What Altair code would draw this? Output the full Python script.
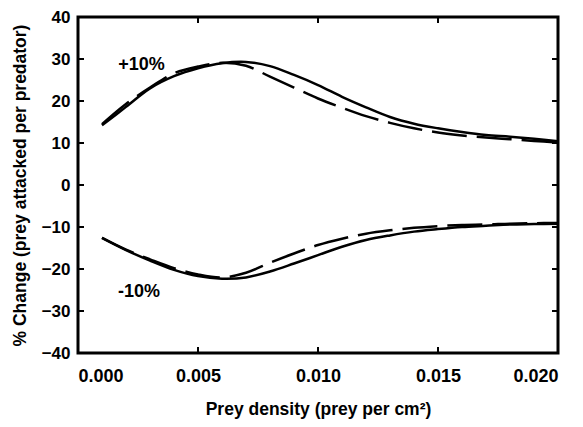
import altair as alt
import pandas as pd

# Prey density (prey per cm^2)
density = [0.001, 0.002, 0.003, 0.004, 0.005, 0.006, 0.007, 0.008, 0.009, 0.010,
           0.011, 0.012, 0.013, 0.014, 0.015, 0.016, 0.017, 0.018, 0.019, 0.020]

# +10% curves
plus_solid = [14.2, 18.6, 23.0, 25.9, 27.8, 29.0, 29.3, 28.3, 26.2, 23.8,
              21.0, 18.5, 16.2, 14.6, 13.5, 12.6, 11.9, 11.5, 11.0, 10.4]
plus_dashed = [14.5, 19.3, 23.2, 26.6, 28.2, 29.1, 28.4, 25.8, 23.2, 20.6,
               18.4, 16.4, 14.8, 13.5, 12.5, 11.8, 11.3, 10.9, 10.5, 10.1]

# -10% curves
minus_solid = [-12.6, -15.5, -18.0, -20.2, -21.7, -22.3, -22.0, -20.6, -18.7, -16.7,
               -14.7, -13.1, -12.0, -11.1, -10.5, -10.0, -9.7, -9.4, -9.3, -9.2]
minus_dashed = [-12.6, -15.4, -17.7, -19.8, -21.3, -22.0, -20.9, -18.5, -16.3, -14.3,
                -12.8, -11.6, -10.8, -10.2, -9.8, -9.5, -9.4, -9.2, -9.1, -9.05]

x_ticks = [0.0, 0.005, 0.010, 0.015, 0.020]
y_ticks = [-40, -30, -20, -10, 0, 10, 20, 30, 40]

label_text = ["+10%", "-10%"]
label_x = [0.00265, 0.00254]
label_y = [28.5, -25.4]

FONT = "Liberation Sans"

solid_df = pd.DataFrame(
    [{"x": d, "y": v, "g": "plus"} for d, v in zip(density, plus_solid)]
    + [{"x": d, "y": v, "g": "minus"} for d, v in zip(density, minus_solid)]
)
dashed_df = pd.DataFrame(
    [{"x": d, "y": v, "g": "plus"} for d, v in zip(density, plus_dashed)]
    + [{"x": d, "y": v, "g": "minus"} for d, v in zip(density, minus_dashed)]
)
xt_df = pd.DataFrame({"x": x_ticks})
yt_df = pd.DataFrame({"y": y_ticks})
lab_df = pd.DataFrame({"x": label_x, "y": label_y, "t": label_text})

X = alt.X(
    "x:Q",
    scale=alt.Scale(domain=[0, 0.02], nice=False, zero=False),
    axis=alt.Axis(
        values=x_ticks, format=".3f", ticks=False, tickSize=0, domain=False, grid=False,
        labelPadding=14, labelFontSize=18, labelFont=FONT, labelFontWeight="bold",
        labelColor="black",
        title="Prey density (prey per cm²)", titleFont=FONT, titleFontSize=17.5,
        titleFontWeight="bold", titleColor="black", titleY=61,
        titleBaseline="alphabetic",
    ),
)
Y = alt.Y(
    "y:Q",
    scale=alt.Scale(domain=[-40, 40], nice=False, zero=False),
    axis=alt.Axis(
        values=y_ticks, ticks=False, tickSize=0, domain=False, grid=False,
        labelPadding=8, labelFontSize=17, labelFont=FONT, labelFontWeight="bold",
        labelColor="black",
        title="% Change (prey attacked per predator)", titleFont=FONT, titleFontSize=17.5,
        titleFontWeight="bold", titleColor="black", titleX=-58,
        titleBaseline="middle",
    ),
)

solid = alt.Chart(solid_df).mark_line(
    color="black", strokeWidth=2.5, interpolate="catmull-rom"
).encode(x=X, y=Y, detail="g:N")

dashed = alt.Chart(dashed_df).mark_line(
    color="black", strokeWidth=2.5, interpolate="catmull-rom", strokeDash=[35, 10]
).encode(x=X, y=Y, detail="g:N")

tick_bottom = alt.Chart(xt_df).mark_rule(color="black", strokeWidth=2).encode(
    x=X, y=alt.value(336), y2=alt.value(330)
)
tick_top = alt.Chart(xt_df).mark_rule(color="black", strokeWidth=2).encode(
    x=X, y=alt.value(0), y2=alt.value(6)
)
tick_left = alt.Chart(yt_df).mark_rule(color="black", strokeWidth=2).encode(
    y=Y, x=alt.value(0), x2=alt.value(6)
)
tick_right = alt.Chart(yt_df).mark_rule(color="black", strokeWidth=2).encode(
    y=Y, x=alt.value(480), x2=alt.value(474)
)

labels = alt.Chart(lab_df).mark_text(
    font=FONT, fontSize=18, fontWeight="bold", color="black",
    align="center", baseline="middle"
).encode(x=X, y=Y, text="t:N")

chart = alt.layer(
    solid, dashed, tick_bottom, tick_top, tick_left, tick_right, labels
).properties(
    width=480, height=336,
    padding={"left": 70, "top": 9, "right": 17, "bottom": 66},
    autosize=alt.AutoSizeParams(type="none"),
    background="white",
).configure_view(stroke="black", strokeWidth=3)

chart.save("out.html", embed_options={"renderer": "svg", "actions": False})
